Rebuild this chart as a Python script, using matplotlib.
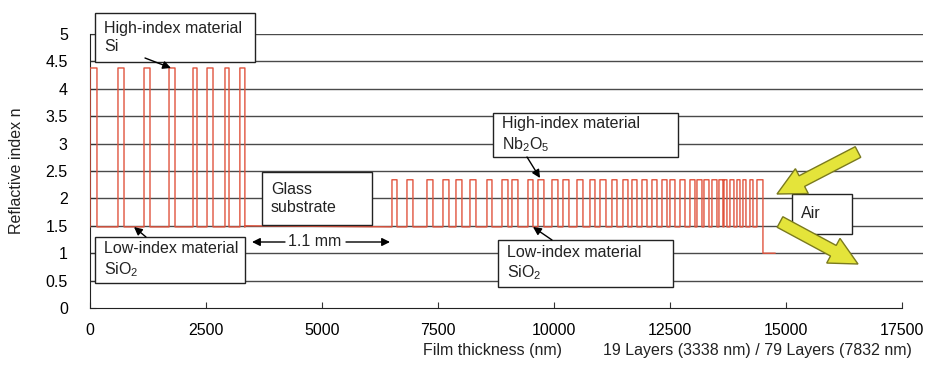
import matplotlib
matplotlib.use("Agg")
import matplotlib.pyplot as plt
from matplotlib.patches import Rectangle, FancyArrow
from matplotlib.transforms import IdentityTransform

plt.rcParams['font.family'] = ['Liberation Sans', 'DejaVu Sans']
plt.rcParams['mathtext.default'] = 'regular'
plt.rcParams['font.size'] = 11.5

# refractive indices
n_si = 4.38
n_nb2o5 = 2.34
n_sio2 = 1.48
n_glass = 1.5
n_air = 1.0

# Si / SiO2 stack (19 layers, 3338 nm): start and thickness of the Si layers (nm)
si_start = [0, 603, 1164, 1703, 2220, 2522, 2909, 3230]
si_width = [150, 130, 129, 129, 86, 129, 87, 108]
si_end = 3338

# Nb2O5 / SiO2 stack (79 layers): start and thickness of the Nb2O5 layers (nm)
nb_start = [6508, 6831, 7262, 7607, 7887, 8189, 8555, 8879, 9094, 9439,
            9654, 9956, 10193, 10495, 10775, 10991, 11249, 11486, 11680, 11896,
            12111, 12327, 12499, 12715, 12930, 13081, 13232, 13404, 13555, 13641,
            13792, 13943, 14072, 14223, 14374]
nb_width = [108, 129, 129, 129, 129, 129, 108, 129, 129, 108,
            129, 129, 129, 129, 108, 129, 108, 108, 108, 108,
            108, 108, 108, 108, 108, 108, 108, 108, 108, 86,
            86, 65, 65, 65, 129]
air_end = 14762

x_ticks = [0, 2500, 5000, 7500, 10000, 12500, 15000, 17500]
y_ticks = [0, 0.5, 1, 1.5, 2, 2.5, 3, 3.5, 4, 4.5, 5]


def add_pulses(xs, ys, starts, widths, hi, lo):
    for s, w in zip(starts, widths):
        xs += [s, s, s + w, s + w]
        ys += [lo, hi, hi, lo]


# build the index profile
xs, ys = [0], [n_sio2]
add_pulses(xs, ys, si_start, si_width, n_si, n_sio2)
xs += [si_end, si_end]
ys += [n_sio2, n_glass]
add_pulses(xs, ys, nb_start, nb_width, n_nb2o5, n_sio2)
# last layer drops straight into air
xs[-1] = xs[-2]
ys[-1] = n_air
xs.append(air_end)
ys.append(n_air)

fig = plt.figure(figsize=(9.46, 3.76), dpi=100)
W, H = 946, 376
ax = fig.add_axes([90 / W, 1 - 308 / H, (923 - 90) / W, (308 - 34) / H])

ax.plot(xs, ys, color='#e0533d', lw=1.0, zorder=3)

ax.set_xlim(0, 17500 * (923 - 90) / (902 - 90))
ax.set_ylim(0, 5)
ax.set_xticks(x_ticks)
ax.set_yticks(y_ticks)
ax.set_yticklabels([f"{v:g}" for v in y_ticks])
ax.tick_params(axis='x', direction='in', length=4, pad=11, color='#333333')
ax.tick_params(axis='y', direction='in', length=4, pad=16, color='#333333')
for v in y_ticks[1:]:
    ax.axhline(v, color='#4a4a4a', lw=1.0, zorder=1)
for side in ['top', 'right']:
    ax.spines[side].set_visible(False)
ax.spines['bottom'].set_bounds(0, 17500)
ax.spines['left'].set_color('#222222')
ax.spines['bottom'].set_color('#222222')


def px(x, y):
    return x / W, 1 - y / H


def box(x0, y0, x1, y1, text):
    r = Rectangle(px(x0, y1), (x1 - x0) / W, (y1 - y0) / H, transform=fig.transFigure,
                  facecolor='white', edgecolor='#222222', lw=1.0, zorder=5)
    fig.patches.append(r)
    fig.text(*px(x0 + 9, (y0 + y1) / 2), text, ha='left', va='center',
             linespacing=1.3, zorder=6, color='#222222')


def arrow(x0, y0, x1, y1):
    fig.add_artist(plt.Annotation('', xy=px(x1, y1), xytext=px(x0, y0),
                                  xycoords='figure fraction', textcoords='figure fraction',
                                  arrowprops=dict(arrowstyle='-|>', color='black', lw=1.0,
                                                  mutation_scale=12, shrinkA=0, shrinkB=0),
                                  zorder=7))


box(95, 13, 255, 62, "High-index material\nSi")
arrow(145, 58, 171, 68)
box(95, 237, 245, 283, "Low-index material\nSiO$_2$")
arrow(146, 237, 134, 227)
box(262, 172, 372, 225, "Glass\nsubstrate")
box(493, 113, 678, 157, "High-index material\nNb$_2$O$_5$")
arrow(527, 157, 540, 178)
box(498, 240, 673, 287, "Low-index material\nSiO$_2$")
arrow(552, 240, 533, 227)
box(792, 194, 852, 234, "Air")

# 1.1 mm dimension arrow
fig.text(*px(315, 242), "1.1 mm", ha='center', va='center', color='#222222')
arrow(285, 242, 252, 242)
arrow(346, 242, 390, 242)

# yellow light arrows (display pixels)
for (x0, y0, x1, y1) in [(858, 152, 777, 194), (780, 222, 858, 264)]:
    dx, dy = x1 - x0, -(y1 - y0)
    a = FancyArrow(x0, H - y0, dx, dy, width=12, head_width=28, head_length=28,
                   length_includes_head=True, transform=IdentityTransform(),
                   facecolor='#e4e43a', edgecolor='#7a7a1e', lw=1.0, zorder=8)
    fig.patches.append(a)

fig.text(*px(17, 171), "Reflactive index n", rotation=90, ha='center', va='center',
         color='#222222')
fig.text(*px(492, 350), "Film thickness (nm)", ha='center', va='center', color='#222222')
fig.text(*px(757, 350), "19 Layers (3338 nm) / 79 Layers (7832 nm)", ha='center',
         va='center', color='#222222')

fig.savefig("out.png", dpi=100)
